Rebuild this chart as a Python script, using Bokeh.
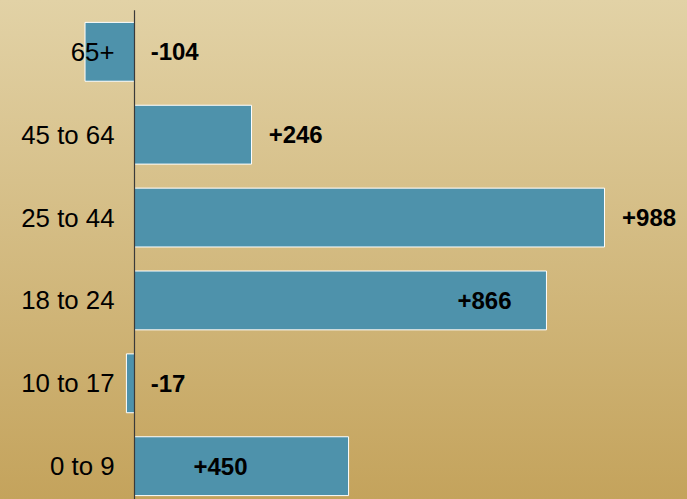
from bokeh.plotting import figure
from bokeh.models import ColumnDataSource
from bokeh.embed import file_html
from bokeh.resources import INLINE
from bokeh.core.properties import value

# Data (bottom to top)
categories = ["0 to 9", "10 to 17", "18 to 24", "25 to 44", "45 to 64", "65+"]
changes = [450, -17, 866, 988, 246, -104]
value_labels = ["+450", "-17", "+866", "+988", "+246", "-104"]
# label anchor positions (data units along x)
label_x = [124, 34, 679, 1025, 282, 34]

ypos = list(range(len(categories)))

src = ColumnDataSource(dict(
    cat=categories, y=ypos, change=changes, zero=[0] * len(categories),
    lab=value_labels, lx=label_x,
))

p = figure(width=687, height=499, x_range=(-281.7, 1162.5), y_range=(-0.402, 5.619),
           output_backend="svg", toolbar_location=None, min_border=0)
p.axis.visible = False
p.grid.visible = False
p.outline_line_color = None
p.background_fill_alpha = 0
p.border_fill_alpha = 0
p.styles = {"background": "linear-gradient(to bottom, #e2d2a6, #c4a35c)"}

p.hbar(y="y", left="zero", right="change", height=0.71, source=src,
       fill_color="#4e92ab", line_color="white", line_width=1)
p.segment(x0=0, y0=-1, x1=0, y1=5.5, line_color="#3a3a3a", line_width=1.2)

p.text(x="zero", y="y", text="cat", source=src, x_offset=-20,
       text_align="right", text_baseline="middle",
       text_font=value("Liberation Sans"), text_font_size="25.8px", text_color="black")
p.text(x="lx", y="y", text="lab", source=src,
       text_align="left", text_baseline="middle",
       text_font=value("Liberation Sans"), text_font_size="24px",
       text_font_style="bold", text_color="black")

open("out.html", "w").write(file_html(p, INLINE))
